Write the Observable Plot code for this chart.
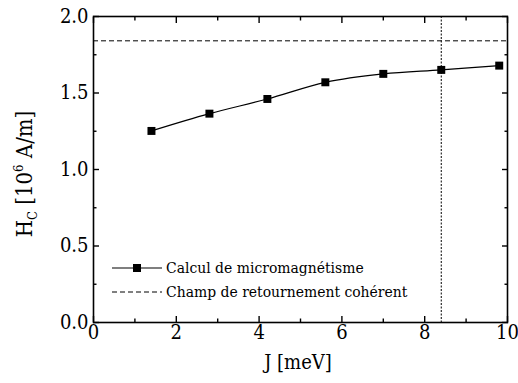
<!DOCTYPE html>
<html><head><meta charset="utf-8">
<script src="https://cdn.jsdelivr.net/npm/d3@7"></script>
<script src="https://cdn.jsdelivr.net/npm/@observablehq/plot@0.6"></script>
<style>
body{margin:0;background:#fff;}
#chart{position:relative;width:518px;height:383px;}
#chart svg text{font-family:"DejaVu Serif";font-stretch:condensed;}
#legend{position:absolute;left:112px;top:256px;color:#000;font-family:"DejaVu Serif";font-stretch:condensed;font-size:15.5px;}
#legend div{display:flex;align-items:center;white-space:nowrap;height:24px;}
#legend svg{margin-right:4px;}
</style></head><body><div id="chart"></div>
<script>
const J = [1.4, 2.8, 4.2, 5.6, 7.0, 8.4, 9.8];
const Hc = [1.252, 1.365, 1.461, 1.570, 1.625, 1.651, 1.679];
const coherentField = [1.841];
const jMarker = [8.4];
const xMajor = [0, 2, 4, 6, 8, 10];
const xMinor = [1, 3, 5, 7, 9];
const yMajor = [0, 0.5, 1.0, 1.5, 2.0];
const yMinor = [0.25, 0.75, 1.25, 1.75];
const legendLabels = ["Calcul de micromagnétisme", "Champ de retournement cohérent"];
const xLabel = "J [meV]";

const data = J.map((j, i) => ({J: j, Hc: Hc[i]}));
const blank = () => "";
const fmtY = d3.format(".1f");
const serif = "DejaVu Serif";

const plot = Plot.plot({
  width: 518, height: 383,
  marginLeft: 93, marginRight: 11, marginTop: 16, marginBottom: 61,
  style: {fontFamily: serif, fontSize: "20px", background: "white", color: "black"},
  x: {domain: [0, 10]},
  y: {domain: [0, 2]},
  marks: [
    Plot.ruleY(coherentField, {stroke: "black", strokeWidth: 1, strokeDasharray: "5,3"}),
    Plot.ruleX(jMarker, {stroke: "black", strokeWidth: 1, strokeDasharray: "2,1.5"}),
    Plot.line(data, {x: "J", y: "Hc", curve: "catmull-rom", stroke: "black", strokeWidth: 1.2}),
    Plot.dot(data, {x: "J", y: "Hc", symbol: "square", fill: "black", stroke: "none", r: 4.5}),
    Plot.axisX(xMajor, {anchor: "bottom", tickSize: -6, tickPadding: 8, tickFormat: d => String(d), label: null, strokeWidth: 1.4}),
    Plot.axisX(xMinor, {anchor: "bottom", tickSize: -3.5, tickFormat: blank, label: null, strokeWidth: 1.4}),
    Plot.axisX(xMajor, {anchor: "top", tickSize: -6, tickFormat: blank, label: null, strokeWidth: 1.4}),
    Plot.axisX(xMinor, {anchor: "top", tickSize: -3.5, tickFormat: blank, label: null, strokeWidth: 1.4}),
    Plot.axisY(yMajor, {anchor: "left", tickSize: -6, tickPadding: 11, tickFormat: fmtY, label: null, strokeWidth: 1.4}),
    Plot.axisY(yMinor, {anchor: "left", tickSize: -3.5, tickFormat: blank, label: null, strokeWidth: 1.4}),
    Plot.axisY(yMajor, {anchor: "right", tickSize: -6, tickFormat: blank, label: null, strokeWidth: 1.4}),
    Plot.axisY(yMinor, {anchor: "right", tickSize: -3.5, tickFormat: blank, label: null, strokeWidth: 1.4}),
    Plot.frame({stroke: "black", strokeWidth: 1.6})
  ]
});

const svg = d3.select(plot);
// x axis label
svg.append("text")
  .attr("x", 298).attr("y", 369)
  .attr("text-anchor", "middle")
  .style("font-size", "20px").attr("fill", "black")
  .text(xLabel);
// y axis label with subscript / superscript
const yl = svg.append("text")
  .attr("transform", "translate(32,174) rotate(-90)")
  .attr("text-anchor", "middle")
  .style("font-size", "22px").attr("fill", "black");
yl.append("tspan").text("H");
yl.append("tspan").style("font-size", "13px").attr("dy", 5).text("C");
yl.append("tspan").attr("dy", -5).text(" [10");
yl.append("tspan").style("font-size", "13px").attr("dy", -9).text("6");
yl.append("tspan").attr("dy", 9).text(" A/m]");

const chart = document.getElementById("chart");
chart.appendChild(plot);

// legend inside the plot area
const legend = document.createElement("div");
legend.id = "legend";
legend.innerHTML =
  `<div><svg width="50" height="10"><line x1="0" x2="50" y1="5" y2="5" stroke="black" stroke-width="1.2"/><rect x="21" y="1" width="8" height="8" fill="black"/></svg>${legendLabels[0]}</div>` +
  `<div><svg width="50" height="10"><line x1="0" x2="50" y1="5" y2="5" stroke="black" stroke-width="1" stroke-dasharray="5,3"/></svg>${legendLabels[1]}</div>`;
chart.appendChild(legend);
</script>
</body></html>
